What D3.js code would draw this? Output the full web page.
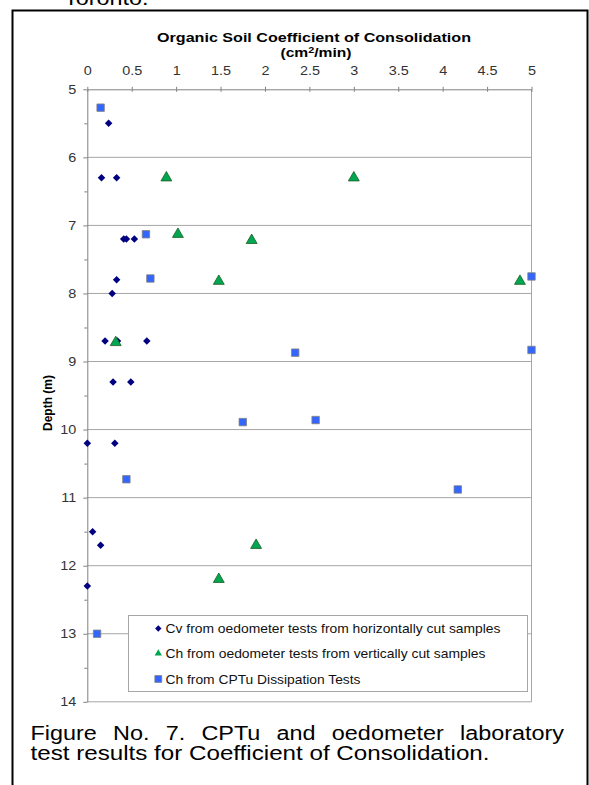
<!DOCTYPE html>
<html>
<head>
<meta charset="utf-8">
<script src="https://cdn.jsdelivr.net/npm/d3@7"></script>
<style>
  body { margin: 0; background: #fff; }
  svg { display: block; font-family: "Liberation Sans", Arial, sans-serif; }
</style>
</head>
<body>
<div id="chart"></div>
<script>
// Cv from oedometer tests (horizontally cut samples): [cv, depth]
const cvHorizontal = [
  [0.24, 5.5], [0.16, 6.3], [0.33, 6.3], [0.41, 7.2], [0.44, 7.2], [0.53, 7.2],
  [0.33, 7.8], [0.28, 8.0], [0.20, 8.7], [0.34, 8.7], [0.67, 8.7],
  [0.29, 9.3], [0.49, 9.3], [0.00, 10.2], [0.31, 10.2],
  [0.06, 11.5], [0.15, 11.7], [0.00, 12.3]
];
// Ch from oedometer tests (vertically cut samples)
const chVertical = [
  [0.89, 6.3], [3.00, 6.3], [1.02, 7.13], [1.85, 7.22], [1.48, 7.82],
  [4.87, 7.82], [0.32, 8.72], [1.90, 11.7], [1.48, 12.2]
];
// Ch from CPTu dissipation tests
const chCptu = [
  [0.15, 5.27], [0.66, 7.13], [0.71, 7.78], [5.00, 7.75], [5.00, 8.83],
  [2.34, 8.87], [1.75, 9.89], [2.57, 9.86], [0.44, 10.73], [4.17, 10.88], [0.11, 13.0]
];

const xTicks = [0, 0.5, 1, 1.5, 2, 2.5, 3, 3.5, 4, 4.5, 5];
const yTicks = [5, 6, 7, 8, 9, 10, 11, 12, 13, 14];
const yMinorTicks = [5.5, 6.5, 7.5, 8.5, 9.5, 10.5, 11.5, 12.5, 13.5];
const legendLabels = [
  "Cv from oedometer tests from horizontally cut samples",
  "Ch from oedometer tests from vertically cut samples",
  "Ch from CPTu Dissipation Tests"
];
const captionLines = [
  "Figure No. 7. CPTu and oedometer laboratory",
  "test results for Coefficient of Consolidation."
];

const width = 589, height = 785;
const plotLeft = 87.3, plotRight = 531.5, plotTop = 89.3, plotBottom = 701.8;
// the scanned figure is a bit wider than tall, so text is stretched sideways
const stretch = 1.2;

const svg = d3.select("#chart").append("svg")
  .attr("width", width)
  .attr("height", height);

function stretchText(sel) {
  sel.each(function () {
    const w = this.getComputedTextLength();
    d3.select(this).attr("textLength", w * stretch).attr("lengthAdjust", "spacingAndGlyphs");
  });
}

// leftover text from previous page line
svg.append("text")
  .attr("x", 64).attr("y", 5)
  .style("font-size", "19.5px")
  .text("Toronto.")
  .call(stretchText);

// figure frame
svg.append("rect")
  .attr("x", 12.5).attr("y", 10.5)
  .attr("width", 575).attr("height", 800)
  .attr("fill", "none")
  .attr("stroke", "#000")
  .attr("stroke-width", 2);

const x = d3.scaleLinear().domain([0, 5]).range([plotLeft, plotRight]);
const y = d3.scaleLinear().domain([5, 14]).range([plotTop, plotBottom]);

// Title
svg.append("text")
  .attr("x", 314).attr("y", 42)
  .attr("text-anchor", "middle")
  .attr("textLength", 314).attr("lengthAdjust", "spacingAndGlyphs")
  .style("font-size", "13px").style("font-weight", "bold")
  .text("Organic Soil Coefficient of Consolidation");
const unit = svg.append("text")
  .attr("x", 316).attr("y", 57)
  .attr("text-anchor", "middle")
  .style("font-size", "13px").style("font-weight", "bold");
unit.append("tspan").text("(cm");
unit.append("tspan").attr("dy", -4).style("font-size", "9px").text("2");
unit.append("tspan").attr("dy", 4).text("/min)");
unit.call(stretchText);

// Gridlines
svg.append("g")
  .selectAll("line")
  .data(yTicks.slice(1, -1))
  .enter()
  .append("line")
  .attr("x1", plotLeft).attr("x2", plotRight)
  .attr("y1", d => y(d)).attr("y2", d => y(d))
  .attr("stroke", "#a6a6a6");

// plot right and bottom edges
svg.append("line")
  .attr("x1", plotRight).attr("x2", plotRight)
  .attr("y1", plotTop).attr("y2", plotBottom)
  .attr("stroke", "#a6a6a6");
svg.append("line")
  .attr("x1", plotLeft).attr("x2", plotRight)
  .attr("y1", plotBottom).attr("y2", plotBottom)
  .attr("stroke", "#a6a6a6");

// X axis (top)
svg.append("g")
  .attr("transform", `translate(0, ${plotTop})`)
  .call(d3.axisTop(x).tickValues(xTicks).tickSize(2.5).tickPadding(12).tickSizeOuter(0).tickFormat(d3.format("")));
svg.append("g")
  .attr("transform", `translate(0, ${plotTop})`)
  .call(d3.axisBottom(x).tickValues(xTicks).tickSize(2.5).tickSizeOuter(0).tickFormat(""))
  .select(".domain").remove();

// Y axis
svg.append("g")
  .attr("transform", `translate(${plotLeft}, 0)`)
  .call(d3.axisLeft(y).tickValues(yTicks).tickSize(4).tickPadding(7).tickSizeOuter(0));
svg.append("g")
  .attr("transform", `translate(${plotLeft}, 0)`)
  .call(d3.axisLeft(y).tickValues(yMinorTicks).tickSize(3).tickFormat(""))
  .select(".domain").remove();

svg.selectAll(".domain, .tick line").attr("stroke", "#808080");
svg.selectAll(".tick text")
  .style("font-size", "12px")
  .style("font-family", "'Liberation Sans', Arial, sans-serif")
  .attr("fill", "#333")
  .call(stretchText);

// Y axis title
svg.append("text")
  .attr("transform", "translate(52, 403) rotate(-90)")
  .attr("text-anchor", "middle")
  .style("font-size", "12px").style("font-weight", "bold")
  .text("Depth (m)");

// Markers
const diamond = d3.symbol().type(d3.symbolDiamond2).size(36);
const triangle = d3.symbol().type(d3.symbolTriangle2).size(85);
const square = d3.symbol().type(d3.symbolSquare2).size(70);

function drawMarkers(data, sym, fill, stroke) {
  svg.append("g")
    .selectAll("path")
    .data(data)
    .enter()
    .append("path")
    .attr("d", sym)
    .attr("transform", d => `translate(${x(d[0])}, ${y(d[1])})`)
    .attr("fill", fill)
    .attr("stroke", stroke)
    .attr("stroke-width", stroke === "none" ? 0 : 0.8);
}

drawMarkers(chCptu, square, "#3366ff", "#7f7f7f");
drawMarkers(cvHorizontal, diamond, "#000080", "none");
drawMarkers(chVertical, triangle, "#00a651", "#1b5e20");

// Legend
const legend = svg.append("g");
legend.append("rect")
  .attr("x", 128.5).attr("y", 615.5)
  .attr("width", 399).attr("height", 76)
  .attr("fill", "#fff")
  .attr("stroke", "#a6a6a6");

const legendSyms = [
  { sym: d3.symbol().type(d3.symbolDiamond2).size(26), fill: "#000080", stroke: "none" },
  { sym: d3.symbol().type(d3.symbolTriangle2).size(38), fill: "#00a651", stroke: "none" },
  { sym: d3.symbol().type(d3.symbolSquare2).size(60), fill: "#3366ff", stroke: "#7f7f7f" }
];
const legendRowY = [628.5, 653.5, 679];
const legendWidths = [335, 320, 195];

legendLabels.forEach((label, i) => {
  legend.append("path")
    .attr("d", legendSyms[i].sym)
    .attr("transform", `translate(158.3, ${legendRowY[i]})`)
    .attr("fill", legendSyms[i].fill)
    .attr("stroke", legendSyms[i].stroke)
    .attr("stroke-width", 0.8);
  legend.append("text")
    .attr("x", 165.5).attr("y", legendRowY[i] + 4.8)
    .attr("textLength", legendWidths[i])
    .attr("lengthAdjust", "spacingAndGlyphs")
    .style("font-size", "13.5px")
    .attr("fill", "#111")
    .text(label);
});

// Caption, first line justified
const captionSize = "19.5px";
function justify(text, x0, x1, yy) {
  const words = text.split(" ");
  const nodes = words.map(w => svg.append("text")
    .attr("y", yy)
    .style("font-size", captionSize)
    .text(w));
  const widths = nodes.map(n => n.node().getComputedTextLength() * stretch);
  nodes.forEach((n, i) => n.attr("textLength", widths[i]).attr("lengthAdjust", "spacingAndGlyphs"));
  const gap = (x1 - x0 - d3.sum(widths)) / (words.length - 1);
  let cx = x0;
  nodes.forEach((n, i) => { n.attr("x", cx); cx += widths[i] + gap; });
}
justify(captionLines[0], 30.5, 564, 739.5);
svg.append("text")
  .attr("x", 30.5).attr("y", 759.5)
  .style("font-size", captionSize)
  .attr("textLength", 459).attr("lengthAdjust", "spacingAndGlyphs")
  .text(captionLines[1]);
</script>
</body>
</html>
